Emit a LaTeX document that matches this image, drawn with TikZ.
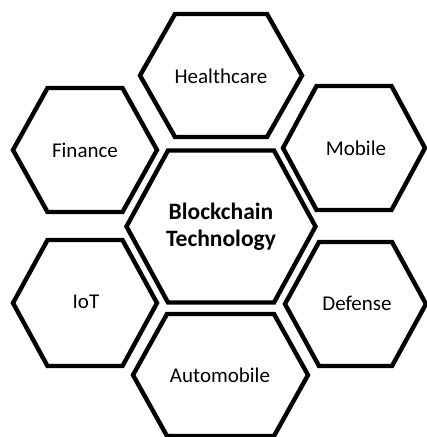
\documentclass[tikz,border=0pt]{standalone}
\usepackage{fontspec}
\setmainfont{Carlito}
\begin{document}
\begin{tikzpicture}[x=1pt,y=-1pt,
  hexline/.style={draw=black,line width=4.4pt,fill=white},
  label/.style={font=\fontsize{21}{24}\selectfont,align=center,inner sep=0pt},
  mainlabel/.style={font=\fontsize{23.5}{27}\selectfont\bfseries,align=center,inner sep=0pt}]
\useasboundingbox (0,0) rectangle (427,437);
% hexagon: centre (#1,#2), half width #3, half top edge #4, half height #5
\newcommand\hexagonat[5]{%
  \draw[hexline] ({#1-#3},#2) -- ({#1-#4},{#2-#5}) -- ({#1+#4},{#2-#5})
    -- ({#1+#3},#2) -- ({#1+#4},{#2+#5}) -- ({#1-#4},{#2+#5}) -- cycle;}
\hexagonat{221}{75.5}{81}{46}{61.5}
\hexagonat{85}{150}{72}{37.5}{62}
\hexagonat{354}{148}{71}{37.5}{62}
\hexagonat{221}{226.5}{94.5}{53}{76}
\hexagonat{85}{303}{72}{37.5}{63}
\hexagonat{355.5}{304}{70.5}{36.5}{62}
\hexagonat{220.5}{375}{87.5}{53.5}{61}
\node[label] (health) at (221,76) {Healthcare};
\node[label] (finance) at (85,150) {Finance};
\node[label] (mobile) at (356,148) {Mobile};
\node[mainlabel] (core) at (221,227) {Blockchain\\Technology};
\node[label] (iot) at (86,302) {IoT};
\node[label] (defense) at (357,303) {Defense};
\node[label] (auto) at (220,375) {Automobile};
\end{tikzpicture}
\end{document}
